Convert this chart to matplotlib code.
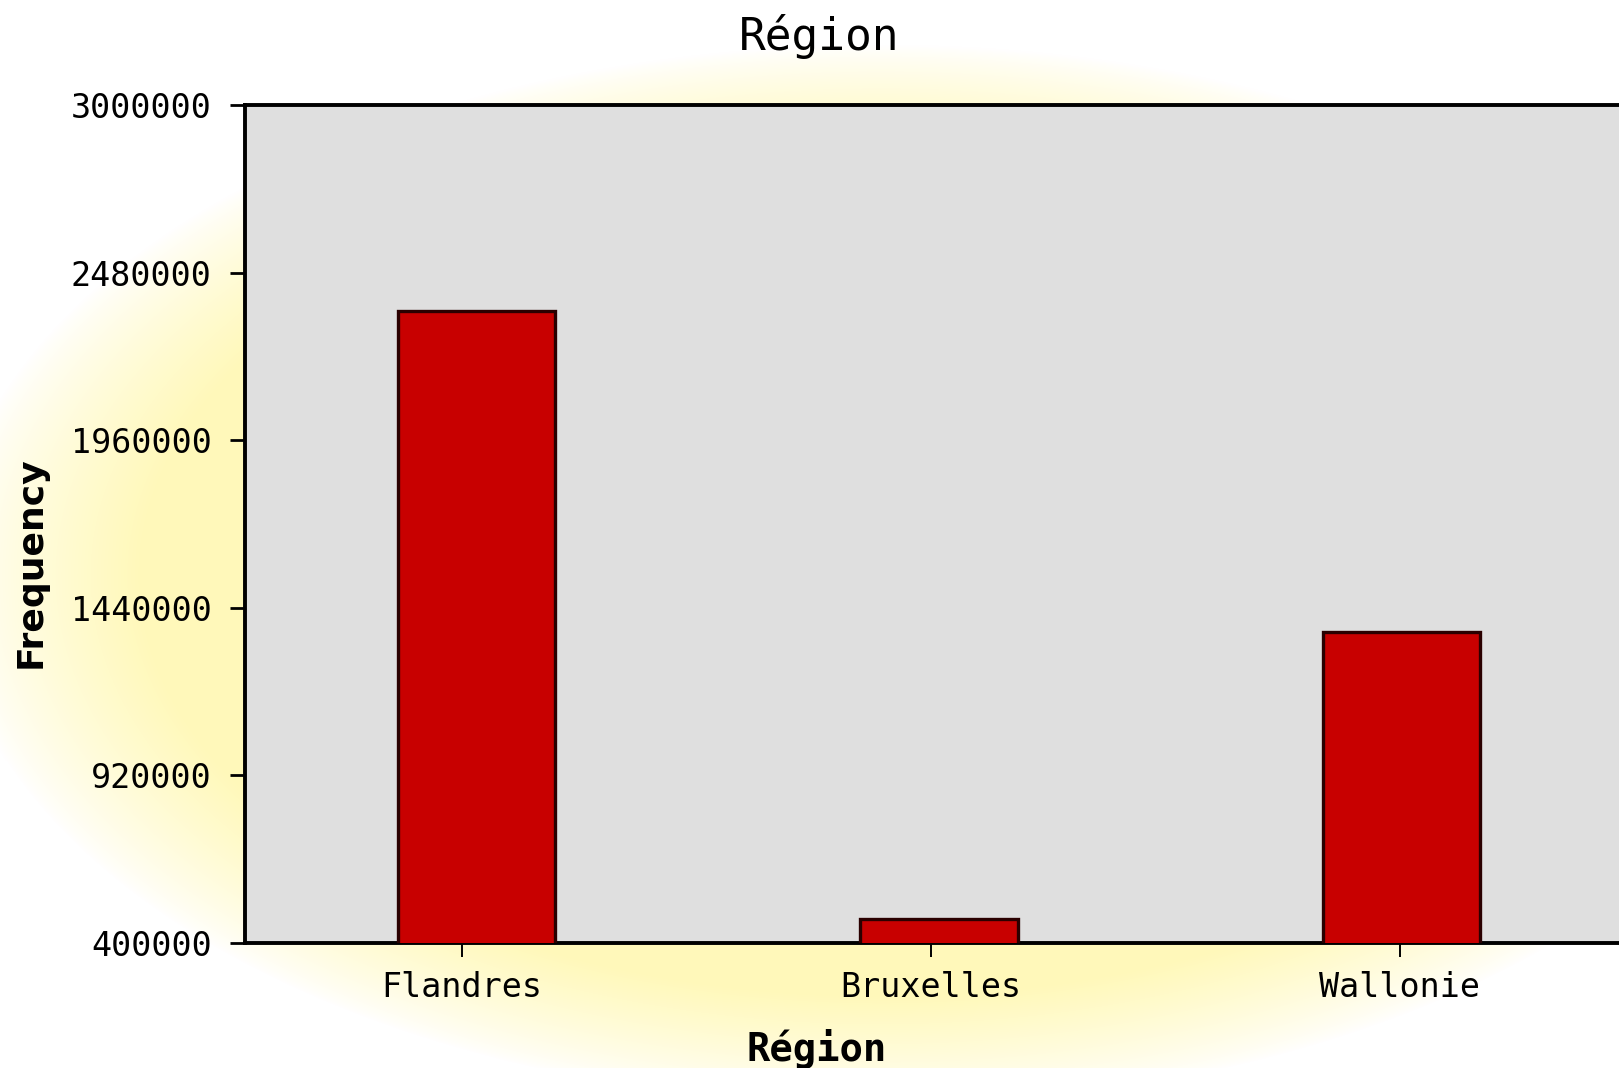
import matplotlib.pyplot as plt
import numpy as np

# Data
regions = ['Flandres', 'Bruxelles', 'Wallonie']
frequency = [2360000, 474000, 1365000]
y_ticks = [400000, 920000, 1440000, 1960000, 2480000, 3000000]

W, H = 1619, 1068
fig = plt.figure(figsize=(W / 100, H / 100), dpi=100)
fig.patch.set_facecolor('white')

# soft yellow glow behind the plot area
bg = fig.add_axes([0, 0, 1, 1], zorder=-1)
yy, xx = np.mgrid[0:H, 0:W]
r = np.sqrt(((xx - 880) / 880.0) ** 2 + ((yy - 575) / 500.0) ** 2)
k = np.clip((1.06 - r) / 0.22, 0, 1) ** 0.8
img = np.ones((H, W, 3))
img[..., 2] = 1 - k * 0.27
img[..., 1] = 1 - k * 0.025
bg.imshow(img, aspect='auto', extent=[0, W, H, 0])
bg.axis('off')

# main axes, right side runs off the image
ax = fig.add_axes([245 / W, 1 - 943 / H, (W - 245) / W, (943 - 105) / H])
ax.set_facecolor('#dfdfdf')

x = np.arange(len(regions))
ax.bar(0.03 + 0.987 * x, frequency, width=0.335, color='#c80000',
       edgecolor='#2a0000', linewidth=2.4, zorder=3)

ax.set_xlim(-0.4627, 2.467)
ax.set_ylim(400000, 3000000)
ax.set_yticks(y_ticks)
ax.set_yticklabels([str(v) for v in y_ticks])
ax.set_xticks(x)
ax.set_xticklabels(regions)

for s in ['top', 'left', 'bottom']:
    ax.spines[s].set_linewidth(2.8)
    ax.spines[s].set_color('black')
ax.spines['right'].set_visible(False)

ax.tick_params(axis='y', length=11, width=2, pad=13, direction='out')
ax.tick_params(axis='x', length=10, width=1.4, pad=10, direction='out')
for lab in ax.get_xticklabels() + ax.get_yticklabels():
    lab.set_family('DejaVu Sans Mono')
    lab.set_fontsize(24)

ax.set_ylabel('Frequency', fontsize=26, fontweight='bold', family='DejaVu Sans')
ax.yaxis.set_label_coords(-0.1434, 0.4547)

fig.text(819 / W, 1 - 50 / H, 'Région', ha='center', va='baseline',
         fontsize=32, family='DejaVu Sans Mono')
fig.text(817 / W, 1 - 1061 / H, 'Région', ha='center', va='baseline',
         fontsize=28, fontweight='bold', family='DejaVu Sans Mono')

fig.savefig('out.png', dpi=100)
